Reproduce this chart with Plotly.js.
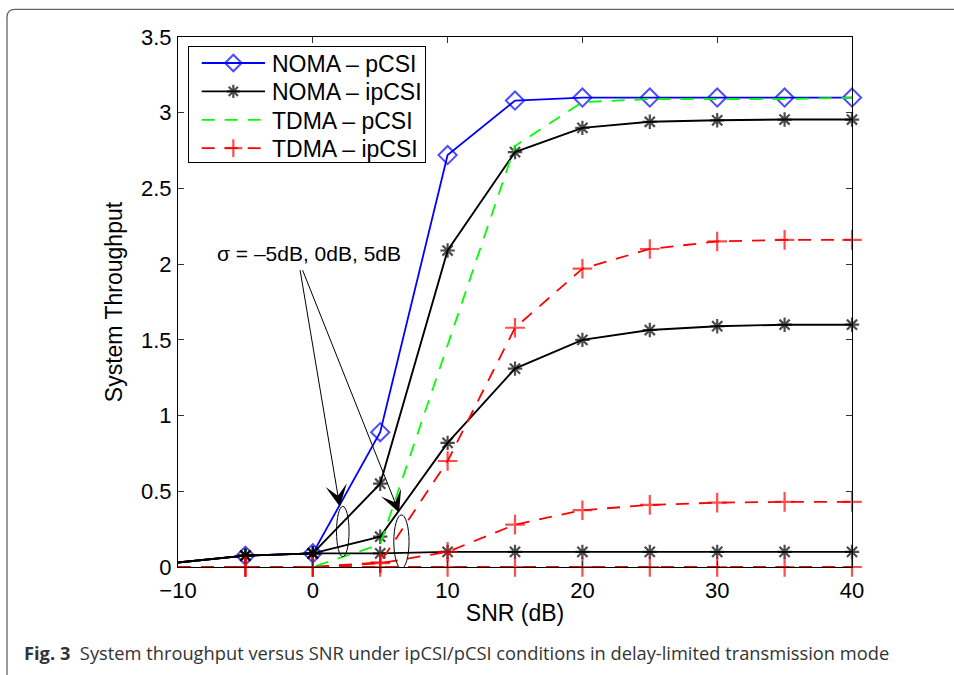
<!DOCTYPE html>
<html>
<head>
<meta charset="utf-8">
<script src="https://cdn.plot.ly/plotly-3.0.1.min.js"></script>
<style>html,body{margin:0;padding:0;background:#fff;}#chart{width:954px;height:675px;}</style>
</head>
<body>
<div id="chart"></div>
<script>
// ---- data ----
const snr = [-10, -5, 0, 5, 10, 15, 20, 25, 30, 35, 40];
const nomaPcsi   = [0.03, 0.075, 0.09, 0.89, 2.72, 3.08, 3.10, 3.10, 3.10, 3.10, 3.10];
const nomaIpcsi1 = [0.03, 0.075, 0.09, 0.55, 2.09, 2.74, 2.90, 2.94, 2.95, 2.955, 2.955];
const nomaIpcsi2 = [0.03, 0.075, 0.09, 0.20, 0.82, 1.31, 1.50, 1.565, 1.59, 1.60, 1.60];
const nomaIpcsi3 = [0.03, 0.075, 0.09, 0.09, 0.10, 0.10, 0.10, 0.10, 0.10, 0.10, 0.10];
const tdmaPcsi   = [0, 0, 0, 0.15, 1.47, 2.78, 3.07, 3.09, 3.09, 3.09, 3.10];
const tdmaIpcsi1 = [0, 0, 0, 0.03, 0.70, 1.58, 1.97, 2.10, 2.15, 2.16, 2.16];
const tdmaIpcsi2 = [0, 0, 0, 0.025, 0.10, 0.28, 0.375, 0.41, 0.425, 0.43, 0.43];
const tdmaIpcsi3 = [0, 0, 0, 0, 0, 0, 0, 0, 0, 0, 0];
const legendNames = ['NOMA \u2013 pCSI', 'NOMA \u2013 ipCSI', 'TDMA \u2013 pCSI', 'TDMA \u2013 ipCSI'];
const xTicks = [-10, 0, 10, 20, 30, 40];
const yTicks = [0, 0.5, 1, 1.5, 2, 2.5, 3, 3.5];
const sigmaLabel = '\u03c3 = \u20135dB, 0dB, 5dB';
const captionText = '<b>Fig. 3</b>  System throughput versus SNR under ipCSI/pCSI conditions in delay-limited transmission mode';
// annotation geometry (data units)
const arrowTips  = [[2.0, 0.40], [6.4, 0.36]];
const arrowTails = [[-0.96, 1.97], [-0.8, 1.97]];
const ellipses = [[1.76, 2.69, 0.068, 0.40], [6.01, 7.14, -0.009, 0.344]];

const FONT = 'Liberation Sans, Arial, Helvetica, sans-serif';
function sizes(s) { return snr.map(v => v === -10 ? 0 : s); }

const traces = [];
traces.push({x: snr, y: nomaPcsi, name: legendNames[0], mode: 'lines+markers', cliponaxis: false,
  line: {color: '#0000ff', width: 1.8},
  marker: {symbol: 'diamond-open', size: sizes(14), color: '#0000ff', line: {width: 2, color: '#0000ff'}}});
[nomaIpcsi1, nomaIpcsi2, nomaIpcsi3].forEach((arr, i) => traces.push({
  x: snr, y: arr, name: legendNames[1], legendgroup: 'ni', showlegend: i === 0,
  mode: 'lines+markers', cliponaxis: false,
  line: {color: '#000000', width: 1.9},
  marker: {symbol: 'asterisk-open', size: sizes(12), color: '#000', line: {width: 2.2, color: '#000'}}}));
traces.push({x: snr, y: tdmaPcsi, name: legendNames[2], mode: 'lines', cliponaxis: false,
  line: {color: '#00ff00', width: 1.8, dash: '13px,10px'}});
[tdmaIpcsi1, tdmaIpcsi2, tdmaIpcsi3].forEach((arr, i) => traces.push({
  x: snr, y: arr, name: legendNames[3], legendgroup: 'ti', showlegend: i === 0,
  mode: 'lines+markers', cliponaxis: false,
  line: {color: '#ff0000', width: 1.8, dash: '13px,10px'},
  marker: {symbol: 'cross-thin-open', size: sizes(14), color: '#ff0000', line: {width: 2.2, color: '#ff0000'}}}));

const annotations = arrowTips.map((t, i) => ({
  x: t[0], y: t[1], xref: 'x', yref: 'y', ax: arrowTails[i][0], ay: arrowTails[i][1],
  axref: 'x', ayref: 'y', text: '', showarrow: true, arrowhead: 3, arrowsize: 3.6,
  arrowwidth: 1, arrowcolor: '#000', standoff: 0, startstandoff: 0}));
annotations.push({x: -0.3, y: 2.07, xref: 'x', yref: 'y', text: sigmaLabel, showarrow: false,
  font: {family: FONT, size: 21, color: '#000'}});
annotations.push({x: -0.2315, y: -0.1605, xref: 'paper', yref: 'paper', xanchor: 'left', yanchor: 'middle',
  text: captionText, showarrow: false, font: {family: 'Open Sans, sans-serif', size: 18.3, color: '#333333'}});

const shapes = ellipses.map(e => ({type: 'circle', xref: 'x', yref: 'y', x0: e[0], x1: e[1], y0: e[2], y1: e[3],
  line: {color: '#000', width: 1}}));
// figure panel border (rounded top-left corner)
shapes.push({type: 'path', xref: 'paper', yref: 'paper', layer: 'below',
  path: 'M -0.2537,-0.25 L -0.2537,1.037 Q -0.2537,1.052 -0.2418,1.052 L 1.2,1.052',
  line: {color: '#666666', width: 1.3}});

const layout = {
  width: 954, height: 675,
  margin: {l: 178, r: 102, t: 37, b: 108},
  paper_bgcolor: '#fff', plot_bgcolor: '#fff',
  font: {family: FONT, size: 22, color: '#000'},
  showlegend: true,
  legend: {x: 0.0148, y: 0.984, xanchor: 'left', yanchor: 'top', bgcolor: '#fff',
    bordercolor: '#000', borderwidth: 1, font: {family: FONT, size: 23, color: '#000'}, tracegroupgap: 0},
  xaxis: {range: [-10, 40], tickvals: xTicks, ticks: 'inside', ticklen: 6, tickcolor: '#333',
    showline: true, linecolor: '#000', linewidth: 1, mirror: 'ticks', showgrid: false, zeroline: false,
    ticklabelstandoff: 4,
    tickfont: {family: FONT, size: 22}, title: {text: 'SNR (dB)', font: {family: FONT, size: 23}, standoff: 2}},
  yaxis: {range: [0, 3.5], tickvals: yTicks, ticks: 'inside', ticklen: 6, tickcolor: '#333',
    showline: true, linecolor: '#000', linewidth: 1, mirror: 'ticks', showgrid: false, zeroline: false,
    ticklabelstandoff: 1,
    tickfont: {family: FONT, size: 22}, title: {text: 'System Throughput', font: {family: FONT, size: 23}, standoff: 11}},
  annotations: annotations,
  shapes: shapes
};

// legend box geometry in the reference (pixels)
const LEG = {left: 188, top: 46, width: 238, height: 117, firstY: 17, step: 28.4,
  lineX0: 13.7, lineLen: 63.3, textX: 84};

Plotly.newPlot('chart', traces, layout, {displayModeBar: false, staticPlot: true}).then(function () {
  const leg = document.querySelector('.legend');
  if (!leg) return;
  leg.setAttribute('transform', 'translate(' + LEG.left + ',' + LEG.top + ')');
  const bg = leg.querySelector('rect.bg');
  if (bg) { bg.setAttribute('x', 0.5); bg.setAttribute('y', 0.5);
    bg.setAttribute('width', LEG.width - 1); bg.setAttribute('height', LEG.height - 1); }
  leg.querySelectorAll('[clip-path]').forEach(el => el.removeAttribute('clip-path'));
  const sb = leg.querySelector('.scrollbox');
  if (sb) sb.setAttribute('transform', 'translate(0,0)');
  leg.querySelectorAll('.traces').forEach(function (g, i) {
    g.setAttribute('transform', 'translate(0,' + (LEG.firstY + i * LEG.step) + ')');
    g.querySelectorAll('.legendlines path').forEach(p => p.setAttribute('d', 'M' + LEG.lineX0 + ',0h' + LEG.lineLen));
    g.querySelectorAll('.legendpoints path').forEach(p => p.setAttribute('transform', 'translate(' + (LEG.lineX0 + LEG.lineLen / 2) + ',0)'));
    const t = g.querySelector('.legendtext');
    if (t) t.setAttribute('x', LEG.textX);
  });
});
</script>
</body>
</html>
